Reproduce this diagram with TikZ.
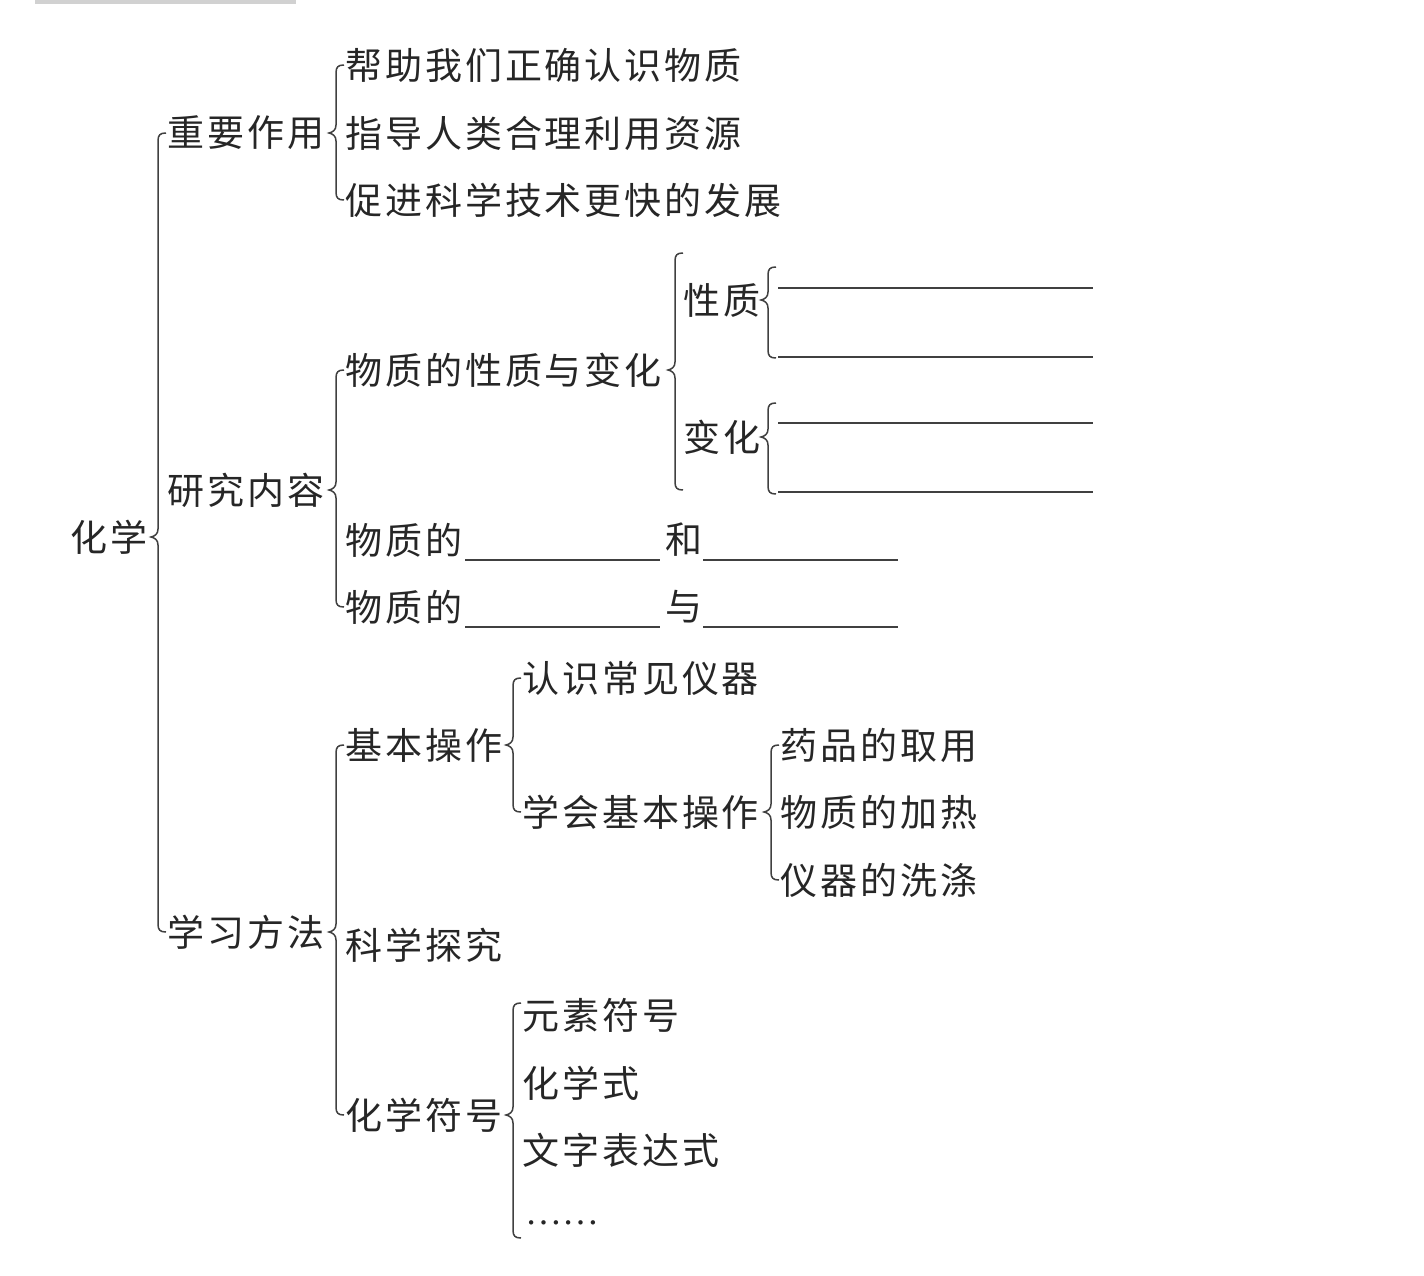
\documentclass[tikz,border=0pt]{standalone}
\usepackage{fontspec}
\newfontfamily\cjk[LetterSpace=8]{Noto Sans CJK SC}
\newfontfamily\latf{Liberation Serif}
\usetikzlibrary{calc}
\tikzset{
  lbl/.style={anchor=west, inner sep=0pt, font=\cjk\fontsize{37}{40}\selectfont, text=black!85},
  br/.style={draw=black!75, line width=1.5pt},
  blank/.style={draw=black!75, line width=1.5pt},
}
% parent node, top end, bottom end
\newcommand\mybrace[3]{%
  \draw[br] let \p1=(#1), \p2=(#2), \p3=(#3) in
    (\x2-1pt,\y2) .. controls (\x2-7pt,\y2) and (\x2-9pt,\y2-2pt) .. (\x2-9pt,\y2-8pt)
    -- (\x2-9pt,\y1+8pt) .. controls (\x2-9pt,\y1+3pt) and (\x2-12pt,\y1+1pt) .. (\x2-16pt,\y1)
    .. controls (\x2-12pt,\y1-1pt) and (\x2-9pt,\y1-3pt) .. (\x2-9pt,\y1-8pt)
    -- (\x2-9pt,\y3+8pt) .. controls (\x2-9pt,\y3+2pt) and (\x2-7pt,\y3) .. (\x2-1pt,\y3);}
\begin{document}
\begin{tikzpicture}[x=1pt,y=-1pt]
\useasboundingbox (0,0) rectangle (1424,1276);
\fill[black!18] (35,0) rectangle (296,4);

% root
\node[lbl] (hx) at (70,537) {化学};
% level 1
\node[lbl] (imp) at (167,133) {重要作用};
\node[lbl] (res) at (167,490) {研究内容};
\node[lbl] (met) at (167,932) {学习方法};
\mybrace{hx}{imp.west}{met.west}

% 重要作用
\node[lbl] (i1) at (345,65) {帮助我们正确认识物质};
\node[lbl] (i2) at (345,133) {指导人类合理利用资源};
\node[lbl] (i3) at (345,200) {促进科学技术更快的发展};
\mybrace{imp}{i1.west}{i3.west}

% 研究内容
\node[lbl] (r1) at (345,370) {物质的性质与变化};
\node[lbl] (r2) at (345,540) {物质的};
\node[lbl] (r3) at (345,607) {物质的};
\mybrace{res}{r1.west}{r3.west}

\node[lbl] (xz) at (683,300) {性质};
\node[lbl] (bh) at (683,437) {变化};
\coordinate (r1T) at (684,253);
\coordinate (r1B) at (684,490);
\mybrace{r1}{r1T}{r1B}

\coordinate (xz1a) at (778,288); \coordinate (xz1b) at (1093,288);
\coordinate (xz2a) at (778,357); \coordinate (xz2b) at (1093,357);
\coordinate (bh1a) at (778,423); \coordinate (bh1b) at (1093,423);
\coordinate (bh2a) at (778,492); \coordinate (bh2b) at (1093,492);
\draw[blank] (xz1a) -- (xz1b);
\draw[blank] (xz2a) -- (xz2b);
\draw[blank] (bh1a) -- (bh1b);
\draw[blank] (bh2a) -- (bh2b);
\coordinate (xzT) at (777,267);
\coordinate (xzB) at (777,358);
\coordinate (bhT) at (777,403);
\coordinate (bhB) at (777,494);
\mybrace{xz}{xzT}{xzB}
\mybrace{bh}{bhT}{bhB}

% blanks in rows r2, r3
\coordinate (r2a) at (465,560); \coordinate (r2b) at (660,560);
\coordinate (r2c) at (703,560); \coordinate (r2d) at (898,560);
\coordinate (r3a) at (465,627); \coordinate (r3b) at (660,627);
\coordinate (r3c) at (703,627); \coordinate (r3d) at (898,627);
\draw[blank] (r2a) -- (r2b);
\draw[blank] (r2c) -- (r2d);
\draw[blank] (r3a) -- (r3b);
\draw[blank] (r3c) -- (r3d);
\node[lbl] (he) at (665,540) {和};
\node[lbl] (yu) at (665,607) {与};

% 学习方法
\node[lbl] (m1) at (345,745) {基本操作};
\node[lbl] (m2) at (345,945) {科学探究};
\node[lbl] (m3) at (345,1115) {化学符号};
\mybrace{met}{m1.west}{m3.west}

\node[lbl] (b1) at (522,678) {认识常见仪器};
\node[lbl] (b2) at (522,812) {学会基本操作};
\mybrace{m1}{b1.west}{b2.west}

\node[lbl] (o1) at (780,745) {药品的取用};
\node[lbl] (o2) at (780,812) {物质的加热};
\node[lbl] (o3) at (780,880) {仪器的洗涤};
\mybrace{b2}{o1.west}{o3.west}

\node[lbl] (s1) at (522,1015) {元素符号};
\node[lbl] (s2) at (522,1083) {化学式};
\node[lbl] (s3) at (522,1150) {文字表达式};
\node[lbl, anchor=base west] (s4) at (525,1224) {\latf ……};
\coordinate (sT) at (522,1003);
\coordinate (sB) at (522,1238);
\mybrace{m3}{sT}{sB}
\end{tikzpicture}
\end{document}
